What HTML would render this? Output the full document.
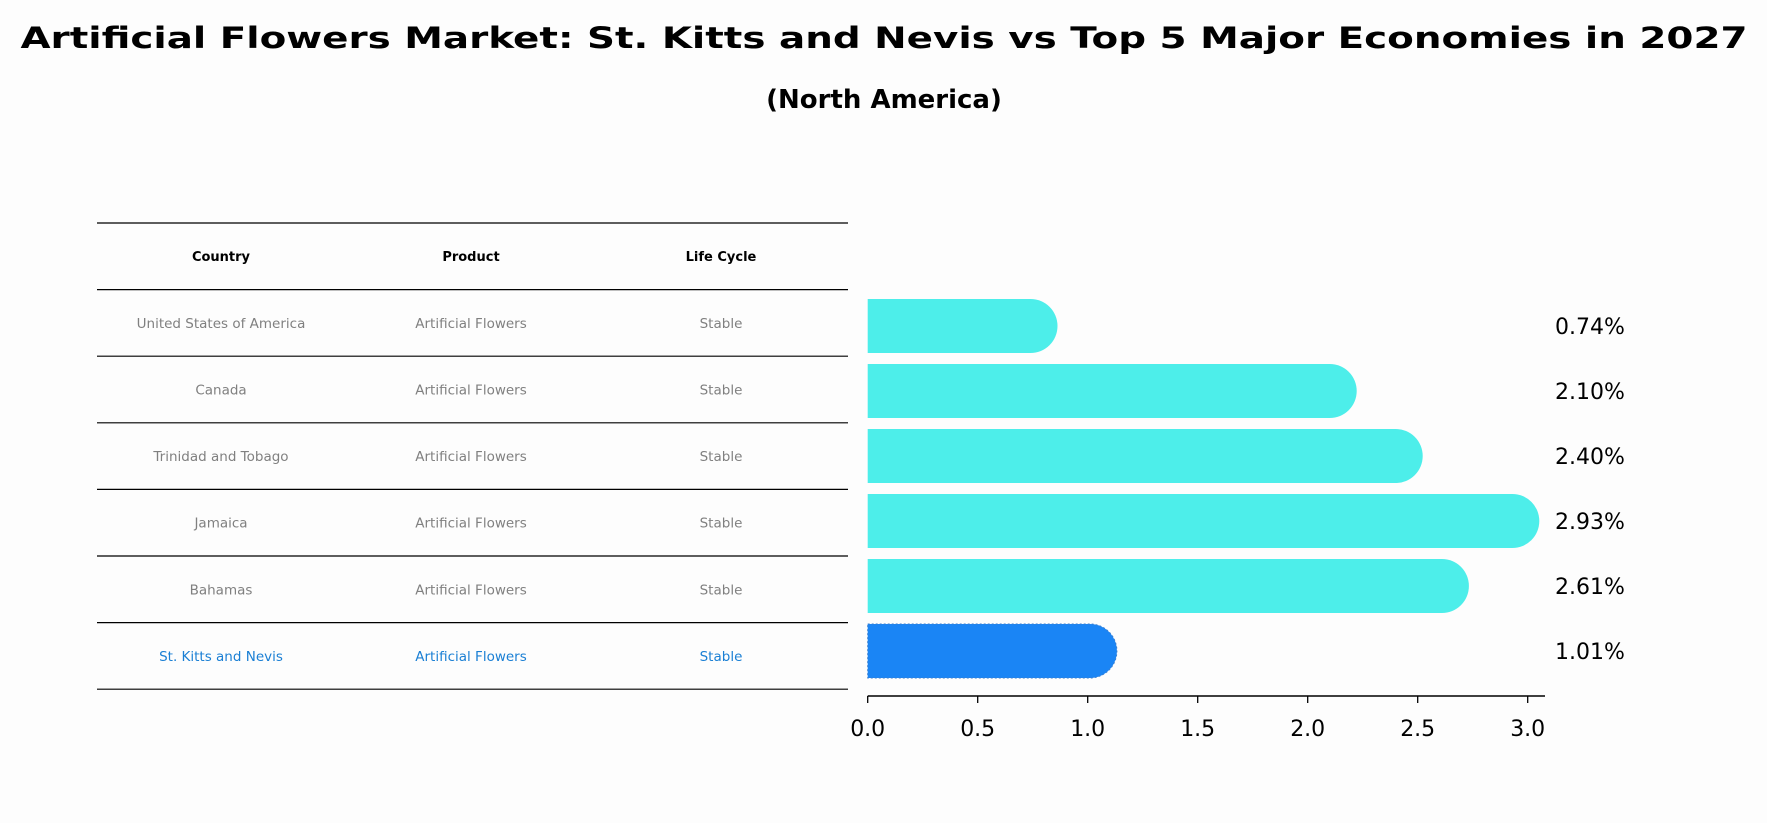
<!DOCTYPE html>
<html><head><meta charset="utf-8"><style>
body{margin:0;background:#fdfdfd}
svg{display:block;font-family:"DejaVu Sans","Liberation Sans",sans-serif}
</style></head><body>
<svg id="chart" width="1767" height="823" viewBox="0 0 1767 823" xmlns="http://www.w3.org/2000/svg">
<rect width="1767" height="823" fill="#fdfdfd"/>
<text x="884" y="48" text-anchor="middle" font-size="29" font-weight="bold" textLength="1727" lengthAdjust="spacingAndGlyphs">Artificial Flowers Market: St. Kitts and Nevis vs Top 5 Major Economies in 2027</text>
<text x="884" y="108" text-anchor="middle" font-size="26" font-weight="bold">(North America)</text>
<g id="table"></g>
<g id="bars"></g>
</svg>
<script>
const countries=["United States of America","Canada","Trinidad and Tobago","Jamaica","Bahamas","St. Kitts and Nevis"];
const products=["Artificial Flowers","Artificial Flowers","Artificial Flowers","Artificial Flowers","Artificial Flowers","Artificial Flowers"];
const lifeCycles=["Stable","Stable","Stable","Stable","Stable","Stable"];
const values=[0.74,2.10,2.40,2.93,2.61,1.01];
const valueLabels=["0.74%","2.10%","2.40%","2.93%","2.61%","1.01%"];
const ticks=[0,0.5,1.0,1.5,2.0,2.5,3.0];
const tickLabels=["0.0","0.5","1.0","1.5","2.0","2.5","3.0"];
const headers=["Country","Product","Life Cycle"];

const NS="http://www.w3.org/2000/svg";
function mk(tag,attrs,parent){const e=document.createElementNS(NS,tag);for(const k in attrs)e.setAttribute(k,attrs[k]);parent.appendChild(e);return e;}
const x=v=>867.7+v*220;
const yc=i=>326+i*65;
const rowLine=i=>223+i*66.6;
const colX=[221,471,721];

const tbl=document.getElementById('table');
for(let i=0;i<=7;i++){
  const l=mk('line',{x1:97,x2:848,y1:rowLine(i),y2:rowLine(i),stroke:'#000','stroke-width':1.2},tbl);
  
  
}
headers.forEach((h,j)=>{
  const t=mk('text',{x:colX[j],y:(rowLine(0)+rowLine(1))/2+4.5,'text-anchor':'middle','font-size':13,'font-weight':'bold'},tbl);
  t.textContent=h;
  
  
});
countries.forEach((c,i)=>{
  const cy=(rowLine(i+1)+rowLine(i+2))/2+5;
  const col=i===countries.length-1?'#1a7fd4':'#808080';
  [c,products[i],lifeCycles[i]].forEach((s,j)=>{
    const t=mk('text',{x:colX[j],y:cy,'text-anchor':'middle','font-size':13.5,fill:col},tbl);
    t.textContent=s;
    
    
  });
});

const bg=document.getElementById('bars');
const h=54,r=27;
values.forEach((v,i)=>{
  const x0=x(0),x1=x(v),top=yc(i)-h/2;
  const hl=i===values.length-1;
  const p=mk('path',{d:`M${x0},${top} H${x1} A${r},${r} 0 0 1 ${x1},${top+h} H${x0} Z`,fill:hl?'#1a85f5':'#4deeea'},bg);
  if(hl){p.setAttribute('stroke','#3a7fd0');p.setAttribute('stroke-dasharray','2,2');p.setAttribute('stroke-width','1');}
  
  
  const t=mk('text',{x:1555,y:yc(i)+8,'font-size':22},bg);
  t.textContent=valueLabels[i];
  
  
});
const ax=mk('line',{x1:x(0),x2:1545,y1:696,y2:696,stroke:'#000','stroke-width':1.5},bg);


ticks.forEach((tv,k)=>{
  const tl=mk('line',{x1:x(tv),x2:x(tv),y1:696,y2:703,stroke:'#000','stroke-width':1.3},bg);
  
  
  const t=mk('text',{x:x(tv),y:736,'text-anchor':'middle','font-size':22},bg);
  t.textContent=tickLabels[k];
  
  
});
</script>
</body></html>
